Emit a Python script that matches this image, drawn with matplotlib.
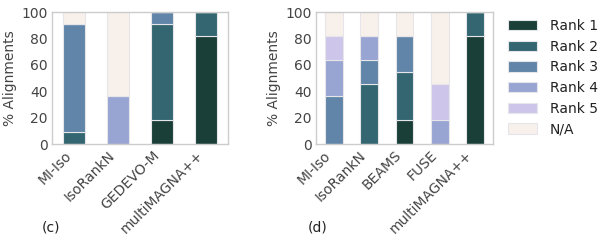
import numpy as np
import matplotlib
matplotlib.use('Agg')
import matplotlib.pyplot as plt

# percent of 11 alignments per rank
ranks = ['Rank 1', 'Rank 2', 'Rank 3', 'Rank 4', 'Rank 5', 'N/A']
colors = ['#1a3f38', '#336670', '#6085a8', '#98a4d2', '#cdc6ea', '#f7f0eb']

methods_c = ['MI-Iso', 'IsoRankN', 'GEDEVO-M', 'multiMAGNA++']
vals_c = {
    'Rank 1': [0, 0, 18.2, 81.8],
    'Rank 2': [9.1, 0, 72.7, 18.2],
    'Rank 3': [81.8, 0, 9.1, 0],
    'Rank 4': [0, 36.4, 0, 0],
    'Rank 5': [0, 0, 0, 0],
    'N/A': [9.1, 63.6, 0, 0],
}

methods_d = ['MI-Iso', 'IsoRankN', 'BEAMS', 'FUSE', 'multiMAGNA++']
vals_d = {
    'Rank 1': [0, 0, 18.2, 0, 81.8],
    'Rank 2': [0, 45.5, 36.4, 0, 18.2],
    'Rank 3': [36.4, 18.2, 27.3, 0, 0],
    'Rank 4': [27.3, 18.2, 0, 18.2, 0],
    'Rank 5': [18.2, 0, 0, 27.3, 0],
    'N/A': [18.2, 18.2, 18.2, 54.5, 0],
}

text_col = '#444444'
fs = 10
fig = plt.figure(figsize=(6.06, 2.43), dpi=100)
ax1 = fig.add_axes([52/606, 1 - 144/243, 176/606, 132/243])
ax2 = fig.add_axes([316/606, 1 - 144/243, 177/606, 132/243])


def draw(ax, methods, vals, tag, tag_x):
    x = np.arange(len(methods))
    bottom = np.zeros(len(methods))
    handles = []
    for r, c in zip(ranks, colors):
        v = np.array(vals[r])
        h = ax.bar(x, v, 0.5, bottom=bottom, color=c, edgecolor='#e6e6ea', linewidth=0.8, label=r)
        handles.append(h)
        bottom += v
    ax.set_xlim(-0.5, len(methods) - 0.5)
    ax.set_ylim(0, 100)
    ax.set_yticks([0, 20, 40, 60, 80, 100])
    ax.set_xticks(x)
    ax.set_xticklabels(methods, rotation=45, ha='right')
    ax.tick_params(length=0, labelsize=fs, colors=text_col, pad=3)
    ax.set_ylabel('% Alignments', fontsize=fs, color=text_col, labelpad=3)
    for s in ax.spines.values():
        s.set_color('#cccccc')
        s.set_linewidth(1)
    ax.text(tag_x, -0.63, tag, transform=ax.transAxes, fontsize=fs, color='#222222', va='center')
    return handles


draw(ax1, methods_c, vals_c, '(c)', -0.06)
handles = draw(ax2, methods_d, vals_d, '(d)', -0.045)

leg = ax2.legend(handles, ranks, loc='upper left', bbox_to_anchor=(1.03, 1.02),
                 frameon=False, fontsize=fs, handlelength=2.1, handleheight=0.75,
                 labelspacing=0.48, handletextpad=0.9, borderaxespad=0.3)
for t in leg.get_texts():
    t.set_color('#222222')

fig.savefig('out.png', dpi=100)
